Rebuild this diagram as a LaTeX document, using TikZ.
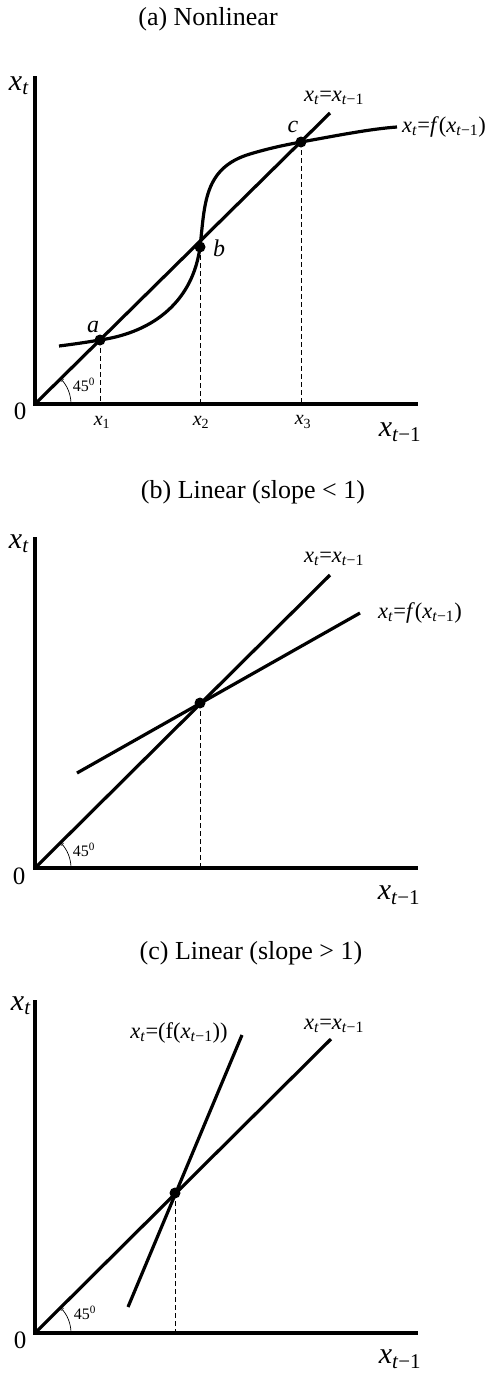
\documentclass[tikz,border=0pt]{standalone}
\usepackage{fontspec}
\setmainfont{Liberation Serif}
\usetikzlibrary{arrows.meta,calc}
\newcommand\xv{\textit{x}}
\newcommand\xt{\textit{x}\textsubscript{\textit{t}}}
\newcommand\xtm{\textit{x}\textsubscript{\textit{t}−1}}
\begin{document}
\begin{tikzpicture}[x=1pt,y=-1pt,
  axis/.style={line width=4pt, line join=miter},
  curve/.style={line width=3.2pt},
  guide/.style={line width=0.9pt, dash pattern=on 5pt off 3pt},
  eqpt/.style={circle, fill, inner sep=0pt, minimum size=11pt},
  ttl/.style={font=\fontsize{26}{30}\selectfont},
  axlab/.style={font=\fontsize{30}{32}\selectfont, inner sep=0pt},
  zero/.style={font=\fontsize{25}{27}\selectfont, inner sep=0pt},
  cl/.style={font=\fontsize{22.5}{24}\selectfont, inner sep=0pt},
  ptlab/.style={font=\fontsize{24}{26}\selectfont\itshape, inner sep=0pt},
  xlab/.style={font=\fontsize{20}{22}\selectfont, inner sep=0pt},
  anglab/.style={font=\fontsize{16}{18}\selectfont, inner sep=0pt},
  ang/.style={line width=0.7pt, -{To[length=3pt,width=4pt]}}
]
\useasboundingbox (0,0) rectangle (489,1373);

% ---------------- panel (a) ----------------
\node[ttl] (ta) at (208,19) {(a) Nonlinear};
\coordinate (Oa) at (35,404);
\coordinate (Ya) at (35,76);
\coordinate (Xa) at (418,404);
\draw[axis] (Ya) -- (Oa) -- (Xa);
\node[axlab] (lya) at (19,86) {\xt};
\node[axlab] (lxa) at (400,432) {\xtm};
\node[zero] (za) at (20,411) {0};
\coordinate (La) at (330,113);
\draw[curve] (Oa) -- (La);
\coordinate (pa) at (100,340);
\coordinate (pb) at (200,247);
\coordinate (pc) at (301,142);
\draw[curve] (59,346) .. controls (75,344) and (88,342) .. (pa)
  .. controls (155,332) and (193,300) .. (pb)
  .. controls (205,205) and (203,168) .. (250,154)
  .. controls (270,148) and (285,145) .. (pc)
  .. controls (340,135) and (370,129) .. (397,127);
\draw[guide] (pa) -- (pa |- Oa);
\draw[guide] (pb) -- (pb |- Oa);
\draw[guide] (pc) -- (pc |- Oa);
\node[eqpt] (a) at (pa) {};
\node[eqpt] (b) at (pb) {};
\node[eqpt] (c) at (pc) {};
\node[ptlab] (la) at (93,327) {a};
\node[ptlab] (lb) at (219,248) {b};
\node[ptlab] (lc) at (293,127) {c};
\node[xlab] (x1) at (102,422) {\xv\textsubscript{1}};
\node[xlab] (x2) at (201,422) {\xv\textsubscript{2}};
\node[xlab] (x3) at (303,422) {\xv\textsubscript{3}};
\draw[ang] ($(Oa)+(36,0)$) .. controls ($(Oa)+(36,-9.55)$) and ($(Oa)+(32.2,-18.7)$) .. ($(Oa)+(25.46,-25.46)$);
\node[anglab] (aa) at (84,385) {45\textsuperscript{0}};
\node[cl] (eqa1) at (334,98) {\xt=\xtm};
\node[cl] (eqa2) at (444,127) {\xt=\textit{f}(\xtm)};

% ---------------- panel (b) ----------------
\node[ttl] (tb) at (253,492) {(b) Linear (slope < 1)};
\coordinate (Ob) at (35,868);
\coordinate (Yb) at (35,537);
\coordinate (Xb) at (418,868);
\draw[axis] (Yb) -- (Ob) -- (Xb);
\node[axlab] (lyb) at (19,544) {\xt};
\node[axlab] (lxb) at (399,895) {\xtm};
\node[zero] (zb) at (19,876) {0};
\coordinate (Lb) at (330,575);
\draw[curve] (Ob) -- (Lb);
\coordinate (fb1) at (77,773);
\coordinate (fb2) at (360,613);
\draw[curve] (fb1) -- (fb2);
\coordinate (pe) at (200,703);
\draw[guide] (pe) -- (pe |- Ob);
\node[eqpt] (e) at (pe) {};
\draw[ang] ($(Ob)+(36,0)$) .. controls ($(Ob)+(36,-9.55)$) and ($(Ob)+(32.2,-18.7)$) .. ($(Ob)+(25.46,-25.46)$);
\node[anglab] (ab) at (84,850) {45\textsuperscript{0}};
\node[cl] (eqb1) at (334,559) {\xt=\xtm};
\node[cl] (eqb2) at (420,613) {\xt=\textit{f}(\xtm)};

% ---------------- panel (c) ----------------
\node[ttl] (tc) at (251,953) {(c) Linear (slope > 1)};
\coordinate (Oc) at (35,1333);
\coordinate (Yc) at (35,1000);
\coordinate (Xc) at (418,1333);
\draw[axis] (Yc) -- (Oc) -- (Xc);
\node[axlab] (lyc) at (21,1006) {\xt};
\node[axlab] (lxc) at (400,1359) {\xtm};
\node[zero] (zc) at (20,1340) {0};
\coordinate (Lc) at (331,1039);
\draw[curve] (Oc) -- (Lc);
\coordinate (fc1) at (128,1307);
\coordinate (fc2) at (242,1035);
\draw[curve] (fc1) -- (fc2);
\coordinate (pf) at (175,1193);
\draw[guide] (pf) -- (pf |- Oc);
\node[eqpt] (f) at (pf) {};
\draw[ang] ($(Oc)+(36,0)$) .. controls ($(Oc)+(36,-9.55)$) and ($(Oc)+(32.2,-18.7)$) .. ($(Oc)+(25.46,-25.46)$);
\node[anglab] (ac) at (85,1313) {45\textsuperscript{0}};
\node[cl] (eqc1) at (179,1033) {\xt=(f(\xtm))};
\node[cl] (eqc2) at (334,1026) {\xt=\xtm};
\end{tikzpicture}
\end{document}
